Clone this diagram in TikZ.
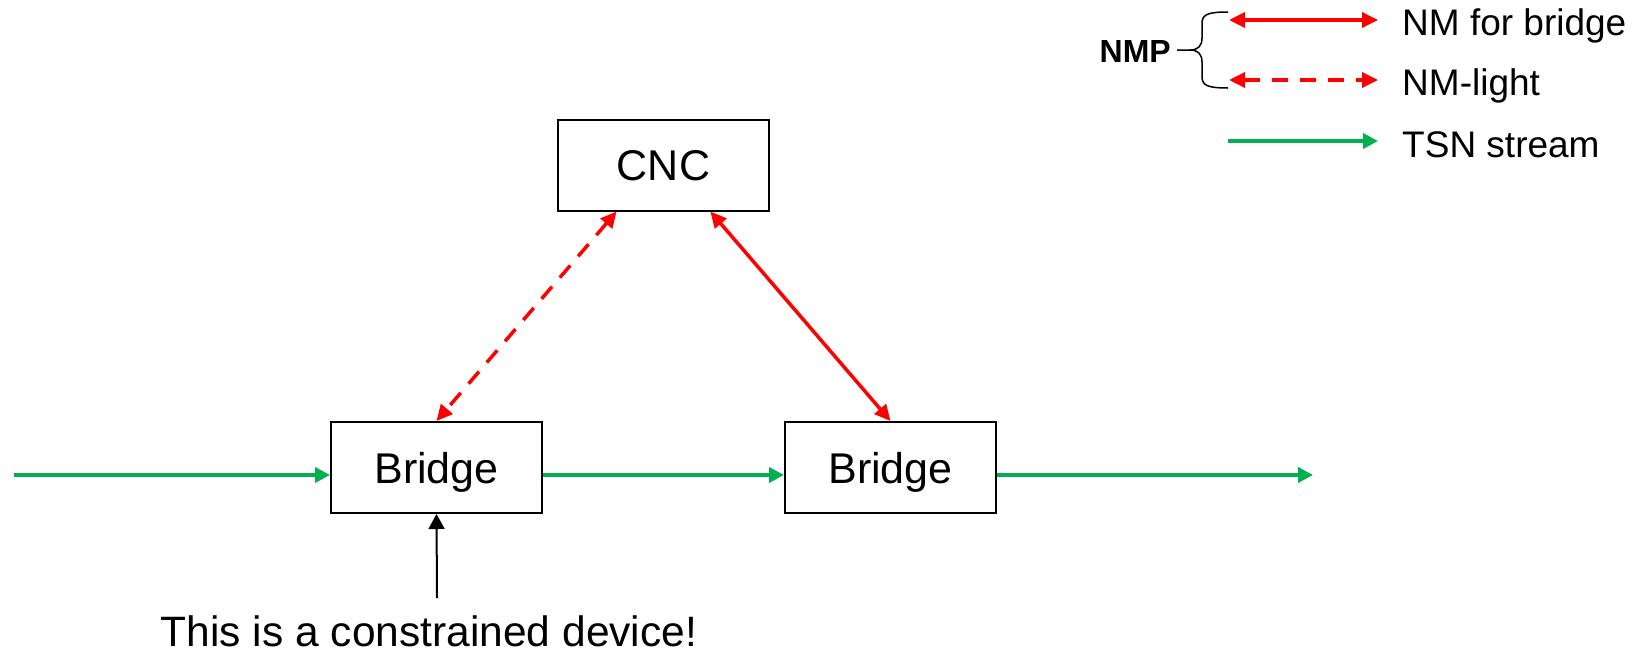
\documentclass[tikz,border=0pt]{standalone}
\usepackage{fontspec}
\setmainfont{Liberation Sans}
\usetikzlibrary{arrows.meta,calc}
\definecolor{nmred}{RGB}{255,0,0}
\definecolor{tsngreen}{RGB}{0,176,80}
\begin{document}
\begin{tikzpicture}[x=1pt,y=-1pt,
  box/.style={draw=black,line width=2pt,minimum width=211pt,minimum height=91pt,
    inner sep=0pt,font=\fontsize{43}{50}\selectfont,text height=31pt,text depth=0pt},
  tsn/.style={draw=tsngreen,line width=4pt,-{Triangle[length=15pt,width=15pt]}},
  nm/.style={draw=nmred,line width=3.5pt,
    {Triangle[length=16pt,width=15pt]}-{Triangle[length=16pt,width=15pt]}},
  nmlight/.style={nm,dash pattern=on 16pt off 12pt},
  pointer/.style={draw=black,line width=2pt,-{Triangle[length=15pt,width=16pt]}},
  legendtext/.style={anchor=base west,font=\fontsize{37}{44}\selectfont,inner sep=0pt},
  brace/.style={draw=black,line width=1.5pt},
]
\useasboundingbox (0,0) rectangle (1633,654);

% network elements
\node[box] (cnc) at (663.5,165) {CNC};
\node[box] (b1) at (436.5,467.5) {Bridge};
\node[box] (b2) at (890.5,467.5) {Bridge};

% TSN stream through the bridges
\coordinate (in) at (14,475);
\coordinate (out) at (1313,475);
\draw[tsn] (in) -- (in -| b1.west);
\draw[tsn] (b1.east |- in) -- (b2.west |- in);
\draw[tsn] (b2.east |- in) -- (out);

% management links from the CNC
\draw[nmlight] ($(cnc.south west)!0.28!(cnc.south east)$) -- (b1.north);
\draw[nm] ($(cnc.south west)!0.72!(cnc.south east)$) -- (b2.north);

% constrained device note
\node[anchor=base,inner sep=0pt,font=\fontsize{42.5}{50}\selectfont] (note) at (429,646)
  {This is a constrained device!};
\coordinate (notetop) at (437,598);
\draw[pointer] (notetop) -- (b1.south);

% legend
\coordinate (l1a) at (1229,20);  \coordinate (l1b) at (1378,20);
\coordinate (l2a) at (1229,80);  \coordinate (l2b) at (1378,80);
\coordinate (l3a) at (1228,141); \coordinate (l3b) at (1378,141);
\draw[nm] (l1a) -- (l1b);
\draw[nmlight] (l2a) -- (l2b);
\draw[tsn] (l3a) -- (l3b);
\node[legendtext] (t1) at (1402,35) {NM for bridge};
\node[legendtext] (t2) at (1402,95) {NM-light};
\node[legendtext] (t3) at (1402,157) {TSN stream};

\node[anchor=base east,inner sep=0pt,font=\bfseries\fontsize{32}{38}\selectfont] (nmp) at (1171,62) {NMP};
\coordinate (bracetip) at (1177,50);
\draw[brace] (bracetip) -- (1190,50)
  .. controls (1198,50) and (1202,46) .. (1202,38) -- (1202,24)
  .. controls (1202,15) and (1206,12) .. (1228,12);
\draw[brace] (1190,50)
  .. controls (1198,50) and (1202,54) .. (1202,62) -- (1202,76)
  .. controls (1202,85) and (1206,88) .. (1228,88);
\end{tikzpicture}
\end{document}
